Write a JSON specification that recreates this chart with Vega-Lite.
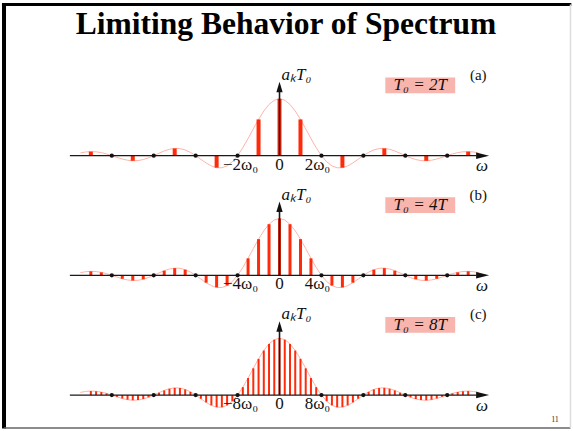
{
  "$schema": "https://vega.github.io/schema/vega-lite/v6.json",
  "width": 573,
  "height": 431,
  "autosize": {"type": "fit", "contains": "padding"},
  "padding": 0,
  "background": "white",
  "config": {"view": {"stroke": null}},
  "title": {"text": "Limiting Behavior of Spectrum", "font": "Liberation Serif", "fontSize": 31.5, "fontWeight": "bold", "color": "#000000", "anchor": "middle", "offset": -40},
  "datasets": {
    "spec": [
      {"u": -4.75, "v": 0.047}, {"u": -4.625, "v": 0.064}, {"u": -4.5, "v": 0.071}, {"u": -4.375, "v": 0.067},
      {"u": -4.25, "v": 0.053}, {"u": -4.125, "v": 0.030}, {"u": -4, "v": 0}, {"u": -3.875, "v": -0.031},
      {"u": -3.75, "v": -0.060}, {"u": -3.625, "v": -0.081}, {"u": -3.5, "v": -0.091}, {"u": -3.375, "v": -0.087},
      {"u": -3.25, "v": -0.069}, {"u": -3.125, "v": -0.039}, {"u": -3, "v": 0}, {"u": -2.875, "v": 0.042},
      {"u": -2.75, "v": 0.082}, {"u": -2.625, "v": 0.112}, {"u": -2.5, "v": 0.127}, {"u": -2.375, "v": 0.124},
      {"u": -2.25, "v": 0.100}, {"u": -2.125, "v": 0.057}, {"u": -2, "v": 0}, {"u": -1.875, "v": -0.065},
      {"u": -1.75, "v": -0.129}, {"u": -1.625, "v": -0.181}, {"u": -1.5, "v": -0.212}, {"u": -1.375, "v": -0.214},
      {"u": -1.25, "v": -0.180}, {"u": -1.125, "v": -0.108}, {"u": -1, "v": 0}, {"u": -0.875, "v": 0.139},
      {"u": -0.75, "v": 0.300}, {"u": -0.625, "v": 0.471}, {"u": -0.5, "v": 0.637}, {"u": -0.375, "v": 0.784},
      {"u": -0.25, "v": 0.900}, {"u": -0.125, "v": 0.974}, {"u": 0, "v": 1},
      {"u": 0.125, "v": 0.974}, {"u": 0.25, "v": 0.900}, {"u": 0.375, "v": 0.784}, {"u": 0.5, "v": 0.637},
      {"u": 0.625, "v": 0.471}, {"u": 0.75, "v": 0.300}, {"u": 0.875, "v": 0.139}, {"u": 1, "v": 0},
      {"u": 1.125, "v": -0.108}, {"u": 1.25, "v": -0.180}, {"u": 1.375, "v": -0.214}, {"u": 1.5, "v": -0.212},
      {"u": 1.625, "v": -0.181}, {"u": 1.75, "v": -0.129}, {"u": 1.875, "v": -0.065}, {"u": 2, "v": 0},
      {"u": 2.125, "v": 0.057}, {"u": 2.25, "v": 0.100}, {"u": 2.375, "v": 0.124}, {"u": 2.5, "v": 0.127},
      {"u": 2.625, "v": 0.112}, {"u": 2.75, "v": 0.082}, {"u": 2.875, "v": 0.042}, {"u": 3, "v": 0},
      {"u": 3.125, "v": -0.039}, {"u": 3.25, "v": -0.069}, {"u": 3.375, "v": -0.087}, {"u": 3.5, "v": -0.091},
      {"u": 3.625, "v": -0.081}, {"u": 3.75, "v": -0.060}, {"u": 3.875, "v": -0.031}, {"u": 4, "v": 0},
      {"u": 4.125, "v": 0.030}, {"u": 4.25, "v": 0.053}, {"u": 4.375, "v": 0.067}, {"u": 4.5, "v": 0.071},
      {"u": 4.625, "v": 0.064}, {"u": 4.75, "v": 0.047}
    ],
    "ticks": [
      {"panel": "a", "u": -1, "label": "−2ω₀"}, {"panel": "a", "u": 0, "label": "0"}, {"panel": "a", "u": 1, "label": "2ω₀"},
      {"panel": "b", "u": -1, "label": "−4ω₀"}, {"panel": "b", "u": 0, "label": "0"}, {"panel": "b", "u": 1, "label": "4ω₀"},
      {"panel": "c", "u": -1, "label": "−8ω₀"}, {"panel": "c", "u": 0, "label": "0"}, {"panel": "c", "u": 1, "label": "8ω₀"}
    ],
    "ann": [
      {"panel": "a", "axis": "aₖT₀", "box": "T₀ = 2T", "tag": "(a)", "w": "ω", "page": ""},
      {"panel": "b", "axis": "aₖT₀", "box": "T₀ = 4T", "tag": "(b)", "w": "ω", "page": ""},
      {"panel": "c", "axis": "aₖT₀", "box": "T₀ = 8T", "tag": "(c)", "w": "ω", "page": "11"}
    ]
  },
  "resolve": {"scale": {"y": "independent"}},
  "layer": [
    {
      "layer": [
        {"data": {"name": "spec"}, "mark": {"type": "line", "color": "#ffb4a8", "strokeWidth": 1},
         "encoding": {
           "x": {"field": "u", "type": "quantitative", "scale": {"domain": [-6.6667, 6.9762], "nice": false, "zero": false}, "axis": null},
           "y": {"field": "v", "type": "quantitative", "scale": {"domain": [-4.8246, 2.7368], "nice": false, "zero": false}, "axis": null}}},
        {"data": {"name": "spec"}, "transform": [{"filter": "datum.v != 0 && abs(datum.u) <= 4.5 && (datum.u == 0 || abs(datum.u % 1) == 0.5)"}],
         "mark": {"type": "rule", "color": "#ff2a0a", "strokeWidth": 4},
         "encoding": {"x": {"field": "u", "type": "quantitative"}, "y": {"field": "v", "type": "quantitative"}, "y2": {"datum": 0}}},
        {"data": {"values": [{}]}, "mark": {"type": "rule", "color": "#1a1a1a", "strokeWidth": 1.3},
         "encoding": {"x": {"datum": -5}, "x2": {"datum": 4.7}, "y": {"datum": 0}}},
        {"data": {"values": [{}]}, "mark": {"type": "rule", "color": "#1a1a1a", "strokeWidth": 1.6},
         "encoding": {"x": {"datum": 0}, "y": {"datum": 0}, "y2": {"datum": 1.2}}},
        {"data": {"name": "spec"}, "transform": [{"filter": "datum.v == 0"}],
         "mark": {"type": "point", "filled": true, "color": "#111111", "size": 18, "opacity": 1},
         "encoding": {"x": {"field": "u", "type": "quantitative"}, "y": {"field": "v", "type": "quantitative"}}},
        {"data": {"values": [{}]}, "mark": {"type": "point", "shape": "M-1,-0.5L1,0L-1,0.5Z", "filled": true, "color": "#111111", "size": 169, "opacity": 1},
         "encoding": {"x": {"datum": 4.845}, "y": {"datum": 0}}},
        {"data": {"values": [{}]}, "mark": {"type": "point", "shape": "M-0.6,1L0,-1L0.6,1Z", "filled": true, "color": "#111111", "size": 110, "opacity": 1},
         "encoding": {"x": {"datum": 0}, "y": {"datum": 1.207}}},
        {"data": {"name": "ticks"}, "transform": [{"filter": "datum.panel == 'a' && datum.u < 0"}],
         "mark": {"type": "text", "font": "Liberation Serif", "fontSize": 17, "color": "#111111", "baseline": "alphabetic", "dx": 3},
         "encoding": {"x": {"field": "u", "type": "quantitative"}, "y": {"datum": -0.246}, "text": {"field": "label"}}},
        {"data": {"name": "ticks"}, "transform": [{"filter": "datum.panel == 'a' && datum.u == 0"}],
         "mark": {"type": "text", "font": "Liberation Serif", "fontSize": 17, "color": "#111111", "baseline": "alphabetic"},
         "encoding": {"x": {"field": "u", "type": "quantitative"}, "y": {"datum": -0.246}, "text": {"field": "label"}}},
        {"data": {"name": "ticks"}, "transform": [{"filter": "datum.panel == 'a' && datum.u > 0"}],
         "mark": {"type": "text", "font": "Liberation Serif", "fontSize": 17, "color": "#111111", "baseline": "alphabetic", "dx": -4},
         "encoding": {"x": {"field": "u", "type": "quantitative"}, "y": {"datum": -0.246}, "text": {"field": "label"}}},
        {"data": {"values": [{}]}, "mark": {"type": "rect", "color": "#f7b5ad"},
         "encoding": {"x": {"datum": 2.524}, "x2": {"datum": 4.19}, "y": {"datum": 1.375}, "y2": {"datum": 1.095}}},
        {"data": {"name": "ann"}, "transform": [{"filter": "datum.panel == 'a'"}],
         "mark": {"type": "text", "font": "Liberation Serif", "fontSize": 17, "fontStyle": "italic", "color": "#111111", "align": "center", "baseline": "middle"},
         "encoding": {"x": {"datum": 3.357}, "y": {"datum": 1.235}, "text": {"field": "box"}}},
        {"data": {"name": "ann"}, "transform": [{"filter": "datum.panel == 'a'"}],
         "mark": {"type": "text", "font": "Liberation Serif", "fontSize": 17, "fontStyle": "italic", "color": "#111111", "align": "left", "baseline": "middle"},
         "encoding": {"x": {"datum": 0.05}, "y": {"datum": 1.42}, "text": {"field": "axis"}}},
        {"data": {"name": "ann"}, "transform": [{"filter": "datum.panel == 'a'"}],
         "mark": {"type": "text", "font": "Liberation Serif", "fontSize": 15, "color": "#111111", "align": "center", "baseline": "middle"},
         "encoding": {"x": {"datum": 4.74}, "y": {"datum": 1.42}, "text": {"field": "tag"}}},
        {"data": {"name": "ann"}, "transform": [{"filter": "datum.panel == 'a'"}],
         "mark": {"type": "text", "font": "Liberation Serif", "fontSize": 17, "fontStyle": "italic", "color": "#111111", "align": "center", "baseline": "middle"},
         "encoding": {"x": {"datum": 4.83}, "y": {"datum": -0.19}, "text": {"field": "w"}}},
        {"data": {"values": [{}]}, "mark": {"type": "rule", "color": "#000000", "strokeWidth": 3},
         "encoding": {"x": {"datum": -6.62}, "x2": {"datum": 6.96}, "y": {"datum": 2.658}}},
        {"data": {"values": [{}]}, "mark": {"type": "rule", "color": "#000000", "strokeWidth": 4},
         "encoding": {"x": {"datum": -6.571}, "y": {"datum": 2.684}, "y2": {"datum": -4.80}}},
        {"data": {"values": [{}]}, "mark": {"type": "rule", "color": "#666666", "strokeWidth": 1.5},
         "encoding": {"x": {"datum": -6.571}, "x2": {"datum": 6.94}, "y": {"datum": -4.789}}},
        {"data": {"values": [{}]}, "mark": {"type": "rule", "color": "#dddddd", "strokeWidth": 1.5},
         "encoding": {"x": {"datum": 6.94}, "y": {"datum": 2.658}, "y2": {"datum": -4.789}}}
      ]
    },
    {
      "layer": [
        {"data": {"name": "spec"}, "mark": {"type": "line", "color": "#ffb4a8", "strokeWidth": 1},
         "encoding": {
           "x": {"field": "u", "type": "quantitative", "scale": {"domain": [-6.6667, 6.9762], "nice": false, "zero": false}, "axis": null},
           "y": {"field": "v", "type": "quantitative", "scale": {"domain": [-2.7193, 4.8421], "nice": false, "zero": false}, "axis": null}}},
        {"data": {"name": "spec"}, "transform": [{"filter": "datum.v != 0 && abs(datum.u) <= 4.5 && datum.u % 0.25 == 0"}],
         "mark": {"type": "rule", "color": "#ff2a0a", "strokeWidth": 3},
         "encoding": {"x": {"field": "u", "type": "quantitative"}, "y": {"field": "v", "type": "quantitative"}, "y2": {"datum": 0}}},
        {"data": {"values": [{}]}, "mark": {"type": "rule", "color": "#1a1a1a", "strokeWidth": 1.3},
         "encoding": {"x": {"datum": -5}, "x2": {"datum": 4.7}, "y": {"datum": 0}}},
        {"data": {"values": [{}]}, "mark": {"type": "rule", "color": "#1a1a1a", "strokeWidth": 1.6},
         "encoding": {"x": {"datum": 0}, "y": {"datum": 0}, "y2": {"datum": 1.2}}},
        {"data": {"name": "spec"}, "transform": [{"filter": "datum.v == 0"}],
         "mark": {"type": "point", "filled": true, "color": "#111111", "size": 18, "opacity": 1},
         "encoding": {"x": {"field": "u", "type": "quantitative"}, "y": {"field": "v", "type": "quantitative"}}},
        {"data": {"values": [{}]}, "mark": {"type": "point", "shape": "M-1,-0.5L1,0L-1,0.5Z", "filled": true, "color": "#111111", "size": 169, "opacity": 1},
         "encoding": {"x": {"datum": 4.845}, "y": {"datum": 0}}},
        {"data": {"values": [{}]}, "mark": {"type": "point", "shape": "M-0.6,1L0,-1L0.6,1Z", "filled": true, "color": "#111111", "size": 110, "opacity": 1},
         "encoding": {"x": {"datum": 0}, "y": {"datum": 1.207}}},
        {"data": {"name": "ticks"}, "transform": [{"filter": "datum.panel == 'b' && datum.u < 0"}],
         "mark": {"type": "text", "font": "Liberation Serif", "fontSize": 17, "color": "#111111", "baseline": "alphabetic", "dx": 3},
         "encoding": {"x": {"field": "u", "type": "quantitative"}, "y": {"datum": -0.246}, "text": {"field": "label"}}},
        {"data": {"name": "ticks"}, "transform": [{"filter": "datum.panel == 'b' && datum.u == 0"}],
         "mark": {"type": "text", "font": "Liberation Serif", "fontSize": 17, "color": "#111111", "baseline": "alphabetic"},
         "encoding": {"x": {"field": "u", "type": "quantitative"}, "y": {"datum": -0.246}, "text": {"field": "label"}}},
        {"data": {"name": "ticks"}, "transform": [{"filter": "datum.panel == 'b' && datum.u > 0"}],
         "mark": {"type": "text", "font": "Liberation Serif", "fontSize": 17, "color": "#111111", "baseline": "alphabetic", "dx": -4},
         "encoding": {"x": {"field": "u", "type": "quantitative"}, "y": {"datum": -0.246}, "text": {"field": "label"}}},
        {"data": {"values": [{}]}, "mark": {"type": "rect", "color": "#f7b5ad"},
         "encoding": {"x": {"datum": 2.524}, "x2": {"datum": 4.19}, "y": {"datum": 1.375}, "y2": {"datum": 1.095}}},
        {"data": {"name": "ann"}, "transform": [{"filter": "datum.panel == 'b'"}],
         "mark": {"type": "text", "font": "Liberation Serif", "fontSize": 17, "fontStyle": "italic", "color": "#111111", "align": "center", "baseline": "middle"},
         "encoding": {"x": {"datum": 3.357}, "y": {"datum": 1.235}, "text": {"field": "box"}}},
        {"data": {"name": "ann"}, "transform": [{"filter": "datum.panel == 'b'"}],
         "mark": {"type": "text", "font": "Liberation Serif", "fontSize": 17, "fontStyle": "italic", "color": "#111111", "align": "left", "baseline": "middle"},
         "encoding": {"x": {"datum": 0.05}, "y": {"datum": 1.42}, "text": {"field": "axis"}}},
        {"data": {"name": "ann"}, "transform": [{"filter": "datum.panel == 'b'"}],
         "mark": {"type": "text", "font": "Liberation Serif", "fontSize": 15, "color": "#111111", "align": "center", "baseline": "middle"},
         "encoding": {"x": {"datum": 4.74}, "y": {"datum": 1.42}, "text": {"field": "tag"}}},
        {"data": {"name": "ann"}, "transform": [{"filter": "datum.panel == 'b'"}],
         "mark": {"type": "text", "font": "Liberation Serif", "fontSize": 17, "fontStyle": "italic", "color": "#111111", "align": "center", "baseline": "middle"},
         "encoding": {"x": {"datum": 4.83}, "y": {"datum": -0.19}, "text": {"field": "w"}}}
      ]
    },
    {
      "layer": [
        {"data": {"name": "spec"}, "mark": {"type": "line", "color": "#ffb4a8", "strokeWidth": 1},
         "encoding": {
           "x": {"field": "u", "type": "quantitative", "scale": {"domain": [-6.6667, 6.9762], "nice": false, "zero": false}, "axis": null},
           "y": {"field": "v", "type": "quantitative", "scale": {"domain": [-0.6140, 6.9474], "nice": false, "zero": false}, "axis": null}}},
        {"data": {"name": "spec"}, "transform": [{"filter": "datum.v != 0 && abs(datum.u) <= 4.5"}],
         "mark": {"type": "rule", "color": "#ff2a0a", "strokeWidth": 2},
         "encoding": {"x": {"field": "u", "type": "quantitative"}, "y": {"field": "v", "type": "quantitative"}, "y2": {"datum": 0}}},
        {"data": {"values": [{}]}, "mark": {"type": "rule", "color": "#1a1a1a", "strokeWidth": 1.3},
         "encoding": {"x": {"datum": -5}, "x2": {"datum": 4.7}, "y": {"datum": 0}}},
        {"data": {"values": [{}]}, "mark": {"type": "rule", "color": "#1a1a1a", "strokeWidth": 1.6},
         "encoding": {"x": {"datum": 0}, "y": {"datum": 0}, "y2": {"datum": 1.2}}},
        {"data": {"name": "spec"}, "transform": [{"filter": "datum.v == 0"}],
         "mark": {"type": "point", "filled": true, "color": "#111111", "size": 18, "opacity": 1},
         "encoding": {"x": {"field": "u", "type": "quantitative"}, "y": {"field": "v", "type": "quantitative"}}},
        {"data": {"values": [{}]}, "mark": {"type": "point", "shape": "M-1,-0.5L1,0L-1,0.5Z", "filled": true, "color": "#111111", "size": 169, "opacity": 1},
         "encoding": {"x": {"datum": 4.845}, "y": {"datum": 0}}},
        {"data": {"values": [{}]}, "mark": {"type": "point", "shape": "M-0.6,1L0,-1L0.6,1Z", "filled": true, "color": "#111111", "size": 110, "opacity": 1},
         "encoding": {"x": {"datum": 0}, "y": {"datum": 1.207}}},
        {"data": {"name": "ticks"}, "transform": [{"filter": "datum.panel == 'c' && datum.u < 0"}],
         "mark": {"type": "text", "font": "Liberation Serif", "fontSize": 17, "color": "#111111", "baseline": "alphabetic", "dx": 3},
         "encoding": {"x": {"field": "u", "type": "quantitative"}, "y": {"datum": -0.246}, "text": {"field": "label"}}},
        {"data": {"name": "ticks"}, "transform": [{"filter": "datum.panel == 'c' && datum.u == 0"}],
         "mark": {"type": "text", "font": "Liberation Serif", "fontSize": 17, "color": "#111111", "baseline": "alphabetic"},
         "encoding": {"x": {"field": "u", "type": "quantitative"}, "y": {"datum": -0.246}, "text": {"field": "label"}}},
        {"data": {"name": "ticks"}, "transform": [{"filter": "datum.panel == 'c' && datum.u > 0"}],
         "mark": {"type": "text", "font": "Liberation Serif", "fontSize": 17, "color": "#111111", "baseline": "alphabetic", "dx": -4},
         "encoding": {"x": {"field": "u", "type": "quantitative"}, "y": {"datum": -0.246}, "text": {"field": "label"}}},
        {"data": {"values": [{}]}, "mark": {"type": "rect", "color": "#f7b5ad"},
         "encoding": {"x": {"datum": 2.524}, "x2": {"datum": 4.19}, "y": {"datum": 1.375}, "y2": {"datum": 1.095}}},
        {"data": {"name": "ann"}, "transform": [{"filter": "datum.panel == 'c'"}],
         "mark": {"type": "text", "font": "Liberation Serif", "fontSize": 17, "fontStyle": "italic", "color": "#111111", "align": "center", "baseline": "middle"},
         "encoding": {"x": {"datum": 3.357}, "y": {"datum": 1.235}, "text": {"field": "box"}}},
        {"data": {"name": "ann"}, "transform": [{"filter": "datum.panel == 'c'"}],
         "mark": {"type": "text", "font": "Liberation Serif", "fontSize": 17, "fontStyle": "italic", "color": "#111111", "align": "left", "baseline": "middle"},
         "encoding": {"x": {"datum": 0.05}, "y": {"datum": 1.42}, "text": {"field": "axis"}}},
        {"data": {"name": "ann"}, "transform": [{"filter": "datum.panel == 'c'"}],
         "mark": {"type": "text", "font": "Liberation Serif", "fontSize": 15, "color": "#111111", "align": "center", "baseline": "middle"},
         "encoding": {"x": {"datum": 4.74}, "y": {"datum": 1.42}, "text": {"field": "tag"}}},
        {"data": {"name": "ann"}, "transform": [{"filter": "datum.panel == 'c'"}],
         "mark": {"type": "text", "font": "Liberation Serif", "fontSize": 17, "fontStyle": "italic", "color": "#111111", "align": "center", "baseline": "middle"},
         "encoding": {"x": {"datum": 4.83}, "y": {"datum": -0.19}, "text": {"field": "w"}}},
        {"data": {"name": "ann"}, "transform": [{"filter": "datum.panel == 'c'"}],
         "mark": {"type": "text", "font": "Liberation Serif", "fontSize": 8, "color": "#333333", "align": "center", "baseline": "middle"},
         "encoding": {"x": {"datum": 6.57}, "y": {"datum": -0.439}, "text": {"field": "page"}}}
      ]
    }
  ]
}
